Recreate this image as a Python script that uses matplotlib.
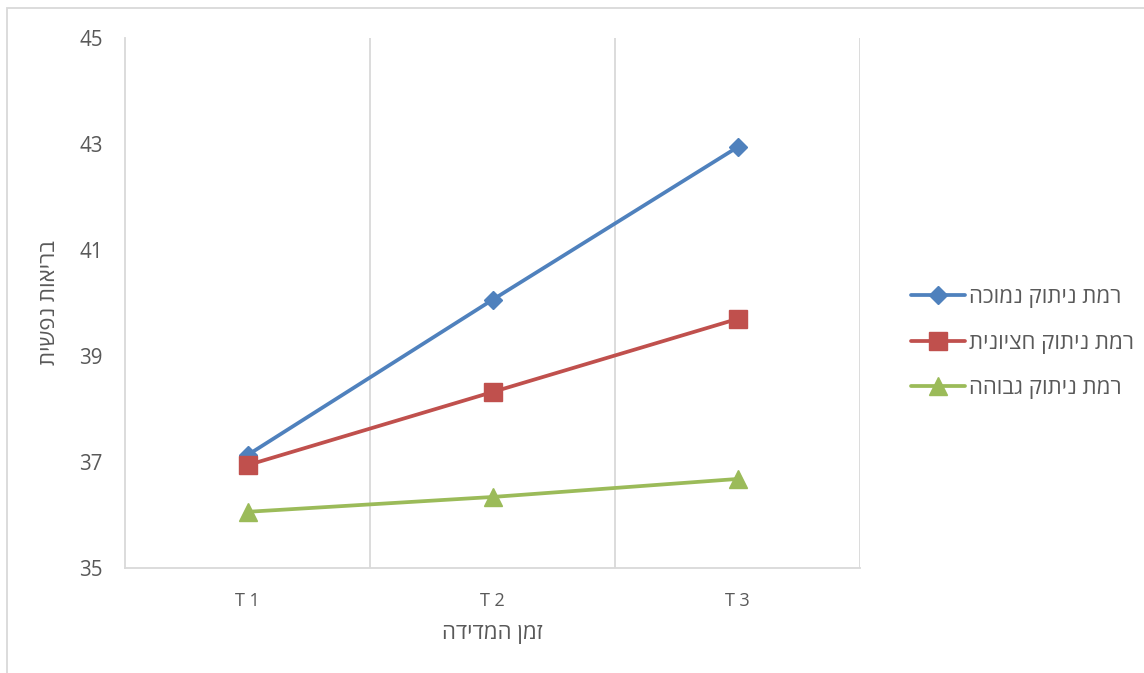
import matplotlib
matplotlib.use("Agg")
import matplotlib.pyplot as plt
from matplotlib.patches import Rectangle

plt.rcParams['font.family'] = ['Open Sans', 'DejaVu Sans']

# Data
categories = ["T 1", "T 2", "T 3"]
series_names = ["רמת ניתוק נמוכה", "רמת ניתוק חציונית", "רמת ניתוק גבוהה"]
low_values = [37.13, 40.06, 42.94]
mid_values = [36.94, 38.32, 39.70]
high_values = [36.06, 36.34, 36.68]
y_ticks = [35, 37, 39, 41, 43, 45]
x_title = "זמן המדידה"
y_title = "בריאות נפשית"

colors = ["#4F81BD", "#C0504D", "#9BBB59"]
markers = ["D", "s", "^"]
marker_sizes = [9.5, 13, 13]
text_color = "#595959"
grid_color = "#D9D9D9"


def visual(s):
    """Reverse Hebrew text so it renders right-to-left."""
    return s[::-1]


fig = plt.figure(figsize=(11.44, 6.73), dpi=100)
ax = fig.add_axes([125 / 1144, 1 - 568 / 673, (860 - 125) / 1144, (568 - 38) / 673])

x = list(range(1, len(categories) + 1))
for vals, name, c, m, ms in zip([low_values, mid_values, high_values],
                                series_names, colors, markers, marker_sizes):
    ax.plot(x, vals, color=c, lw=2.7, marker=m, markersize=ms,
            markeredgecolor=c, markerfacecolor=c, label=visual(name),
            solid_capstyle='round', zorder=3)

ax.set_xlim(0.5, len(categories) + 0.5)
ax.set_ylim(y_ticks[0], y_ticks[-1])
ax.set_yticks(y_ticks)
ax.set_xticks(x)
ax.set_xticklabels(categories)

# category boundary gridlines
for b in [1.5, 2.5, 3.5]:
    ax.axvline(b, color=grid_color, lw=1.3, zorder=1)

for side in ["top", "right"]:
    ax.spines[side].set_visible(False)
for side in ["left", "bottom"]:
    ax.spines[side].set_color(grid_color)
    ax.spines[side].set_linewidth(1.3)

ax.tick_params(axis='y', length=0, pad=16, labelsize=14.8, labelcolor=text_color)
ax.tick_params(axis='x', length=0, pad=17, labelsize=13, labelcolor=text_color)

ax.set_xlabel(visual(x_title), fontsize=16, color=text_color, labelpad=10)
ax.set_ylabel(visual(y_title), fontsize=16, color=text_color, labelpad=14)

leg = fig.legend(loc='center left', bbox_to_anchor=(891 / 1144, 1 - 343 / 673),
                 frameon=False, fontsize=16, handlelength=2.45, handletextpad=0.18,
                 labelspacing=1.1)
for t in leg.get_texts():
    t.set_color(text_color)

# outer chart border
fig.patches.append(Rectangle((6.5 / 1144, -0.05), 1.2, (673 - 8) / 673 + 0.05,
                             transform=fig.transFigure, fill=False,
                             edgecolor=grid_color, lw=1.3))

fig.savefig("out.png", dpi=100, facecolor="white")
